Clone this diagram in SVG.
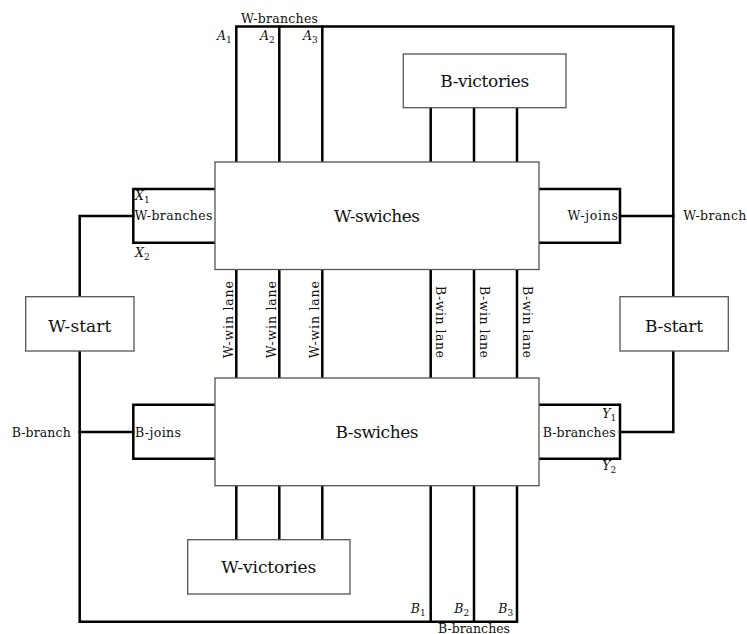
<svg xmlns="http://www.w3.org/2000/svg" width="747" height="634" viewBox="0 0 747 634">
<style>
.bg{fill:#fff}
.box{fill:#fff;stroke:#555;stroke-width:1.3}
.wire{fill:none;stroke:#000;stroke-width:2.5;stroke-linejoin:miter;stroke-linecap:square}
text{font-family:"DejaVu Serif","Liberation Serif",serif;fill:#111}
.big{font-size:17px;text-anchor:middle}
.sm{font-size:12.5px}
.it{font-style:italic}
.sub{font-size:9px;font-style:normal}
</style>
<rect class="bg" x="0" y="0" width="747" height="634"/>
<g id="connectors">
  <path class="wire" d="M236.3,162 V26.5 H673.3 V296.7"/>
  <path class="wire" d="M279.3,26.5 V162 M322.3,26.5 V162"/>
  <path class="wire" d="M430.7,107.7 V162 M474,107.7 V162 M517,107.7 V162"/>
  <path class="wire" d="M215,189 H133.3 V242.7 H215"/>
  <path class="wire" d="M133.3,216 H79.7 V296.7"/>
  <path class="wire" d="M539,189 H620 V242.7 H539"/>
  <path class="wire" d="M620,216 H673.3"/>
  <path class="wire" d="M236.3,269.5 V378 M279.3,269.5 V378 M322.3,269.5 V378"/>
  <path class="wire" d="M430.7,269.5 V378 M474,269.5 V378 M517,269.5 V378"/>
  <path class="wire" d="M215,404.7 H133.3 V458.7 H215"/>
  <path class="wire" d="M133.3,432 H79.7"/>
  <path class="wire" d="M79.7,351 V621.7 H517 V485.7"/>
  <path class="wire" d="M430.7,485.7 V621.7 M474,485.7 V621.7"/>
  <path class="wire" d="M539,404.7 H620 V458.7 H539"/>
  <path class="wire" d="M620,432 H673.3 V351"/>
  <path class="wire" d="M236.3,485.7 V539.7 M279.3,485.7 V539.7 M322.3,485.7 V539.7"/>
</g>
<g id="connector-labels">
  <text class="sm" x="279.5" y="22.7" text-anchor="middle" textLength="77">W-branches</text>
  <text class="sm it" x="217" y="40">A<tspan class="sub" dy="3">1</tspan></text>
  <text class="sm it" x="260" y="40">A<tspan class="sub" dy="3">2</tspan></text>
  <text class="sm it" x="303" y="40">A<tspan class="sub" dy="3">3</tspan></text>
  <text class="sm it" x="135" y="200">X<tspan class="sub" dy="3">1</tspan></text>
  <text class="sm" x="134.5" y="219.5" textLength="78">W-branches</text>
  <text class="sm it" x="135" y="256.5">X<tspan class="sub" dy="3">2</tspan></text>
  <text class="sm" x="618" y="220" text-anchor="end" textLength="50.5">W-joins</text>
  <text class="sm" x="683.3" y="220" textLength="63">W-branch</text>
  <text class="sm" x="135" y="436.7" textLength="46">B-joins</text>
  <text class="sm" x="11.7" y="436.7" textLength="59">B-branch</text>
  <text class="sm it" x="602.3" y="418.3">Y<tspan class="sub" dy="3">1</tspan></text>
  <text class="sm" x="542.7" y="436.7" textLength="73">B-branches</text>
  <text class="sm it" x="602.3" y="469.5">Y<tspan class="sub" dy="3">2</tspan></text>
  <text class="sm it" x="410.7" y="613.3">B<tspan class="sub" dy="3">1</tspan></text>
  <text class="sm it" x="454.3" y="613.3">B<tspan class="sub" dy="3">2</tspan></text>
  <text class="sm it" x="498.3" y="613.3">B<tspan class="sub" dy="3">3</tspan></text>
  <text class="sm" x="474" y="632.5" text-anchor="middle" textLength="72">B-branches</text>
  <text class="sm" transform="translate(232.5,319.7) rotate(-90)" text-anchor="middle" textLength="77">W-win lane</text>
  <text class="sm" transform="translate(275.5,319.7) rotate(-90)" text-anchor="middle" textLength="77">W-win lane</text>
  <text class="sm" transform="translate(318.5,319.7) rotate(-90)" text-anchor="middle" textLength="77">W-win lane</text>
  <text class="sm" transform="translate(436.3,322) rotate(90)" text-anchor="middle" textLength="72">B-win lane</text>
  <text class="sm" transform="translate(479.6,322) rotate(90)" text-anchor="middle" textLength="72">B-win lane</text>
  <text class="sm" transform="translate(522.6,322) rotate(90)" text-anchor="middle" textLength="72">B-win lane</text>
</g>
<g id="w-swiches">
  <rect class="box" x="215" y="162" width="324" height="107.5"/>
  <text class="big" x="377" y="222.3" textLength="86">W-swiches</text>
</g>
<g id="b-swiches">
  <rect class="box" x="215" y="378" width="324" height="107.7"/>
  <text class="big" x="377" y="438" textLength="83">B-swiches</text>
</g>
<g id="b-victories">
  <rect class="box" x="403.3" y="54" width="162.7" height="53.7"/>
  <text class="big" x="484.7" y="87.3" textLength="89">B-victories</text>
</g>
<g id="w-victories">
  <rect class="box" x="187.7" y="539.7" width="162.3" height="54.3"/>
  <text class="big" x="268.8" y="573.3" textLength="95">W-victories</text>
</g>
<g id="w-start">
  <rect class="box" x="25.7" y="296.7" width="108.3" height="54.3"/>
  <text class="big" x="79.8" y="331.7" textLength="63">W-start</text>
</g>
<g id="b-start">
  <rect class="box" x="620" y="296.7" width="108.3" height="54.3"/>
  <text class="big" x="674" y="331.7" textLength="58">B-start</text>
</g>
</svg>
